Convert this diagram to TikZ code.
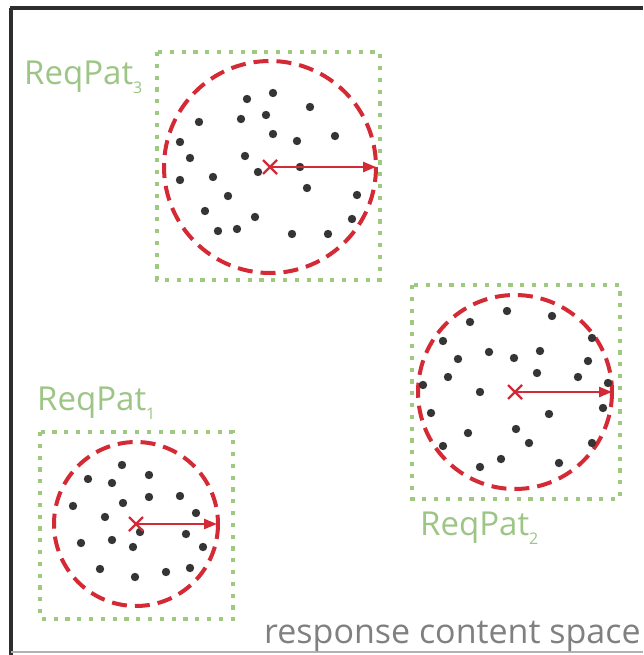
\documentclass[tikz,border=0pt]{standalone}
\usepackage{fontspec}
\setmainfont{Open Sans}
\usetikzlibrary{arrows.meta,calc}
\definecolor{lgreen}{HTML}{9FC97E}
\definecolor{lgtext}{HTML}{9DC585}
\definecolor{dred}{HTML}{D42A35}
\definecolor{dotc}{HTML}{353535}
\definecolor{frame}{HTML}{2E2E2E}
\tikzset{
  patbox/.style={draw=lgreen, line width=4.2pt, dash pattern=on 4.2pt off 7.6pt},
  radcirc/.style={draw=dred, line width=4pt, dash pattern=on 15pt off 8pt},
  radarrow/.style={draw=dred, line width=2.6pt, -{Triangle[length=13pt,width=10pt]}},
  cross/.style={draw=dred, line width=2.4pt},
  pt/.style={fill=dotc},
  patlabel/.style={text=lgtext, font=\fontsize{33}{33}\selectfont, inner sep=0pt, anchor=base west},
  spacelabel/.style={text=gray, font=\fontsize{34}{34}\selectfont, inner sep=0pt, anchor=base west}
}
\newcommand{\sub}[1]{\raisebox{-9pt}{\fontsize{16}{16}\selectfont #1}}
\begin{document}
\begin{tikzpicture}[x=1pt,y=-1pt]
\useasboundingbox (0,0) rectangle (643,655);
\fill[white] (0,0) rectangle (643,655);
% frame
\draw[frame, line width=4pt] (10,8) -- (643,8);
\draw[frame, line width=4pt] (11,8) -- (11,655);
\draw[gray!60, line width=1.5pt] (11,652) -- (643,652);

% ---------- cluster 3 ----------
\draw[patbox] (157,52) rectangle (380,280);
\coordinate (c3) at (270,167);
\coordinate (e3) at (376,167);
\draw[radcirc] (c3) circle (106);
\foreach \x/\y in {247/99,273/93,310/107,199/122,241/119,266/115,273/134,297/141,335/136,180/142,190/158,245/156,258/172,300/167,180/180,213/177,307/188,228/196,357/195,205/211,255/217,352/219,218/231,237/229,292/234,328/234}
  \fill[pt] (\x,\y) circle (4.2);
\draw[radarrow] (c3) -- (e3);
\draw[cross] ($(c3)+(-7,-7)$) -- ++(14,14) ($(c3)+(-7,7)$) -- ++(14,-14);
\node[patlabel] (l3) at (24,85) {ReqPat\sub{3}};

% ---------- cluster 2 ----------
\draw[patbox] (412,285) rectangle (620,499);
\coordinate (c2) at (515,392);
\coordinate (e2) at (612,392);
\draw[radcirc] (c2) circle (97);
\foreach \x/\y in {507/311,552/316,470/322,443/341,592/338,489/352,540/351,458/359,514/358,588/361,537/373,578/377,448/377,423/385,608/383,480/392,603/408,431/413,549/414,516/429,468/433,529/443,592/443,443/446,501/459,559/463,480/467}
  \fill[pt] (\x,\y) circle (4.2);
\draw[radarrow] (c2) -- (e2);
\draw[cross] ($(c2)+(-7,-7)$) -- ++(14,14) ($(c2)+(-7,7)$) -- ++(14,-14);
\node[patlabel] (l2) at (420,535) {ReqPat\sub{2}};

% ---------- cluster 1 ----------
\draw[patbox] (40,432) rectangle (233,619);
\coordinate (c1) at (136,524);
\coordinate (e1) at (217,524);
\draw[radcirc] (c1) circle (82);
\foreach \x/\y in {122/465,149/475,88/479,112/483,180/496,149/497,123/503,73/506,196/513,105/517,140/532,186/534,112/540,81/543,133/547,203/547,100/569,166/572,190/568,135/577}
  \fill[pt] (\x,\y) circle (4.2);
\draw[radarrow] (c1) -- (e1);
\draw[cross] ($(c1)+(-7,-7)$) -- ++(14,14) ($(c1)+(-7,7)$) -- ++(14,-14);
\node[patlabel] (l1) at (37,410) {ReqPat\sub{1}};

\node[spacelabel] (sp) at (264,643) {response content space};
\end{tikzpicture}
\end{document}
